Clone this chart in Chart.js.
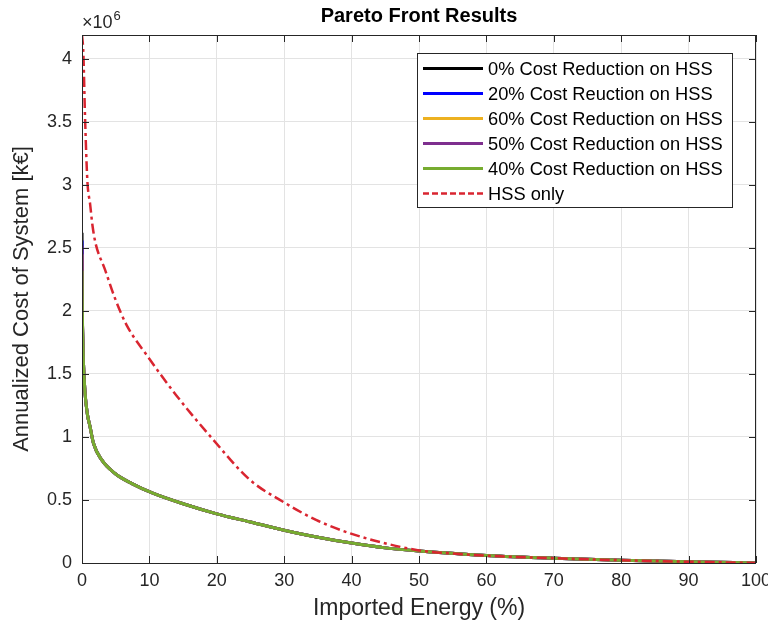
<!DOCTYPE html>
<html>
<head>
<meta charset="utf-8">
<script src="https://cdn.jsdelivr.net/npm/chart.js@4"></script>
<style>
  body { margin: 0; background: #fff; }
  #wrap { width: 768px; height: 633px; }
</style>
</head>
<body>
<div id="wrap"><canvas id="paretoChart" width="768" height="633"></canvas></div>
<script>
// values (x = imported energy %, y = annualized cost in k€)
var seriesNames = ["0% Cost Reduction on HSS", "20% Cost Reuction on HSS", "60% Cost Reduction on HSS",
                   "50% Cost Reduction on HSS", "40% Cost Reduction on HSS", "HSS only"];
var seriesColors = ["#000000", "#0000ff", "#edb120", "#7e2f8e", "#77ac30", "#d92530"];

var frontX = [0, 0.05, 0.1, 0.2, 0.45, 0.8, 1.2, 1.7, 2.9, 4.9, 7.4, 10.6, 15, 20, 25, 30, 35, 40, 45, 50, 60, 70, 80, 90, 100];
var cost0  = [2620000, 2000000, 1830000, 1610000, 1350000, 1180000, 1080000, 950000, 820000, 710000, 630000, 552000, 470000, 390000, 325000, 260000, 205000, 158000, 120000, 95000, 60000, 38000, 22000, 10000, 0];
var cost20 = [2560000, 2000000, 1830000, 1610000, 1350000, 1180000, 1080000, 950000, 820000, 710000, 630000, 552000, 470000, 390000, 325000, 260000, 205000, 158000, 120000, 95000, 60000, 38000, 22000, 10000, 0];
var cost60 = [2450000, 2000000, 1830000, 1610000, 1350000, 1180000, 1080000, 950000, 820000, 710000, 630000, 552000, 470000, 390000, 325000, 260000, 205000, 158000, 120000, 95000, 60000, 38000, 22000, 10000, 0];
var cost50 = [2520000, 2000000, 1830000, 1610000, 1350000, 1180000, 1080000, 950000, 820000, 710000, 630000, 552000, 470000, 390000, 325000, 260000, 205000, 158000, 120000, 95000, 60000, 38000, 22000, 10000, 0];
var cost40 = [2320000, 2000000, 1830000, 1610000, 1350000, 1180000, 1080000, 950000, 820000, 710000, 630000, 552000, 470000, 390000, 325000, 260000, 205000, 158000, 120000, 95000, 60000, 38000, 22000, 10000, 0];

var hssX    = [0, 0.2, 0.45, 0.8, 1.2, 1.55, 2, 3.4, 4.9, 6.6, 9.6, 14, 19.5, 24.9, 29.7, 34.8, 39.8, 44.7, 50, 55, 60, 70, 80, 90, 100];
var hssCost = [4190000, 4050000, 3540000, 3030000, 2850000, 2680000, 2540000, 2330000, 2100000, 1890000, 1650000, 1330000, 976000, 660000, 490000, 340000, 235000, 160000, 100000, 75000, 58000, 38000, 22000, 10000, 0];

var xTicks = [0, 10, 20, 30, 40, 50, 60, 70, 80, 90, 100];
var yTicks = [0, 500000, 1000000, 1500000, 2000000, 2500000, 3000000, 3500000, 4000000];
var yMax = 4190000;

var FONT = "'Liberation Sans', Arial, Helvetica, sans-serif";
var TXT = "#262626";

function pts(xs, ys) {
  var out = [];
  for (var i = 0; i < xs.length; i++) out.push({x: xs[i], y: ys[i]});
  return out;
}

var allY = [cost0, cost20, cost60, cost50, cost40];
var datasets = [];
for (var i = 0; i < 5; i++) {
  datasets.push({
    label: seriesNames[i],
    data: pts(frontX, allY[i]),
    borderColor: seriesColors[i],
    borderWidth: 3,
    pointRadius: 0,
    cubicInterpolationMode: 'monotone',
    order: 6 - i
  });
}
datasets.push({
  label: seriesNames[5],
  data: pts(hssX, hssCost),
  borderColor: seriesColors[5],
  borderWidth: 2.5,
  borderDash: [10, 4, 3, 4],
  pointRadius: 0,
  cubicInterpolationMode: 'monotone',
  order: 1
});

// box, inward ticks, title, exponent and legend drawn like the matlab figure
var matlabLook = {
  id: 'matlabLook',
  afterDraw: function(chart) {
    var ctx = chart.ctx, a = chart.chartArea;
    var sx = chart.scales.x, sy = chart.scales.y;
    ctx.save();
    ctx.strokeStyle = TXT;
    ctx.lineWidth = 1;
    ctx.strokeRect(a.left + 0.5, a.top + 0.5, a.right - a.left - 1, a.bottom - a.top);
    ctx.beginPath();
    xTicks.forEach(function(v) {
      var px = Math.round(sx.getPixelForValue(v)) + 0.5;
      ctx.moveTo(px, a.bottom); ctx.lineTo(px, a.bottom - 7);
      ctx.moveTo(px, a.top); ctx.lineTo(px, a.top + 7);
    });
    yTicks.forEach(function(v) {
      var py = Math.round(sy.getPixelForValue(v)) + 0.5;
      ctx.moveTo(a.left, py); ctx.lineTo(a.left + 7, py);
      ctx.moveTo(a.right, py); ctx.lineTo(a.right - 7, py);
    });
    ctx.stroke();

    // title
    ctx.fillStyle = "#000";
    ctx.font = "bold 20px " + FONT;
    ctx.textAlign = 'center';
    ctx.textBaseline = 'middle';
    ctx.fillText("Pareto Front Results", (a.left + a.right) / 2, 16);

    // exponent
    ctx.fillStyle = TXT;
    ctx.textAlign = 'left';
    ctx.textBaseline = 'alphabetic';
    ctx.font = "18px " + FONT;
    ctx.fillText("\u00d710", a.left, 28);
    var w = ctx.measureText("\u00d710").width;
    ctx.font = "13px " + FONT;
    ctx.fillText("6", a.left + w + 1, 20);

    // legend
    var lx = a.right - 339, ly = a.top + 18, lw = 315, lh = 154;
    ctx.fillStyle = "#fff";
    ctx.fillRect(lx, ly, lw, lh);
    ctx.strokeStyle = TXT;
    ctx.strokeRect(lx + 0.5, ly + 0.5, lw, lh);
    ctx.font = "18.3px " + FONT;
    ctx.textBaseline = 'middle';
    chart.data.datasets.forEach(function(ds, k) {
      var ry = ly + 15.5 + k * 25;
      ctx.save();
      ctx.strokeStyle = ds.borderColor;
      ctx.lineWidth = ds.borderWidth;
      if (ds.borderDash) ctx.setLineDash([6, 3]);
      ctx.beginPath();
      ctx.moveTo(lx + 6, ry); ctx.lineTo(lx + 66, ry);
      ctx.stroke();
      ctx.restore();
      ctx.fillStyle = "#000";
      ctx.fillText(ds.label, lx + 71, ry + 1);
    });
    ctx.restore();
  }
};

var ctx = document.getElementById("paretoChart").getContext('2d');
var myChart = new Chart(ctx, {
  type: 'line',
  data: { datasets: datasets },
  options: {
    responsive: false,
    animation: false,
    layout: { padding: { top: 35, right: 12, left: 0, bottom: 0 } },
    plugins: { legend: { display: false }, tooltip: { enabled: false } },
    scales: {
      x: {
        type: 'linear',
        min: 0, max: 100,
        ticks: { stepSize: 10, padding: 7, color: TXT, font: { family: FONT, size: 18 }, maxRotation: 0 },
        grid: { color: '#e3e3e3', drawTicks: false },
        border: { display: false },
        title: { display: true, text: 'Imported Energy (%)', color: TXT, font: { family: FONT, size: 23 }, padding: { bottom: 11 } },
        afterFit: function(s) { s.height = 70; s.paddingLeft = 0; s.paddingRight = 0; }
      },
      y: {
        min: 0, max: yMax,
        afterBuildTicks: function(s) { s.ticks = yTicks.map(function(v) { return {value: v}; }); },
        ticks: {
          padding: 10, color: TXT, font: { family: FONT, size: 18 },
          callback: function(v) { return String(v / 1000000); }
        },
        grid: { color: '#e3e3e3', drawTicks: false },
        border: { display: false },
        title: { display: true, text: 'Annualized Cost of System [k\u20ac]', color: TXT, font: { family: FONT, size: 22 }, padding: { top: 9 } },
        afterFit: function(s) { s.width = 82; s.paddingTop = 0; s.paddingBottom = 0; }
      }
    }
  },
  plugins: [matlabLook]
});
</script>
</body>
</html>
